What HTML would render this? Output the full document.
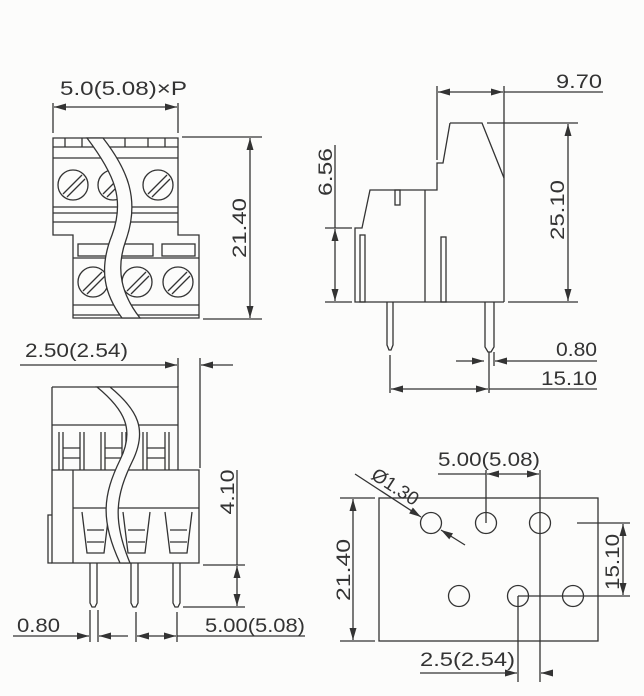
<!DOCTYPE html>
<html><head><meta charset="utf-8"><style>
html,body{margin:0;padding:0;background:#fcfcfb;}
svg{display:block}
text{font-family:"Liberation Sans",sans-serif;font-size:19px;fill:#333}
</style></head><body>
<svg width="644" height="696" viewBox="0 0 644 696" xmlns="http://www.w3.org/2000/svg">
<defs>
<marker id="a" viewBox="0 0 12 7" refX="12" refY="3.5" markerWidth="12" markerHeight="7" markerUnits="userSpaceOnUse" orient="auto-start-reverse"><path d="M0,0L12,3.5L0,7z" fill="#333"/></marker>
</defs>
<g fill="none" stroke="#333" stroke-width="1.3">
<!-- TOP LEFT -->
<line x1="53" y1="103" x2="53" y2="133"/><line x1="178" y1="103" x2="178" y2="133"/>
<line x1="54" y1="107" x2="177" y2="107" marker-start="url(#a)" marker-end="url(#a)"/>
<path d="M53,138H178V235H199V318H73V235H53Z"/>
<line x1="53" y1="147" x2="178" y2="147"/><line x1="53" y1="158" x2="178" y2="158"/>
<line x1="65" y1="138" x2="65" y2="147"/><line x1="82" y1="138" x2="82" y2="147"/>
<line x1="125" y1="138" x2="125" y2="147"/><line x1="148" y1="138" x2="148" y2="147"/><line x1="165" y1="138" x2="165" y2="147"/>
<line x1="53" y1="207" x2="178" y2="207"/><line x1="53" y1="213" x2="178" y2="213"/><line x1="53" y1="222" x2="178" y2="222"/>
<circle cx="73" cy="185" r="15"/><circle cx="113" cy="185" r="15"/><circle cx="158" cy="185" r="15"/>
<path d="M63,194L82,175M67,197L85,179M103,194L122,175M107,197L125,179M148,194L167,175M152,197L170,179"/>
<rect x="78" y="244" width="35" height="12"/><rect x="120" y="244" width="33" height="12"/><rect x="162" y="244" width="33" height="12"/>
<line x1="73" y1="258" x2="199" y2="258"/>
<circle cx="93" cy="282" r="15"/><circle cx="137" cy="282" r="15"/><circle cx="178" cy="282" r="15"/>
<path d="M83,291L102,272M87,294L105,276M127,291L146,272M131,294L149,276M168,291L187,272M172,294L190,276"/>
<line x1="73" y1="305" x2="199" y2="305"/><line x1="73" y1="315" x2="199" y2="315"/>
<path d="M87,138C115,175 125,200 112,235C98,270 105,295 122,318L140,318C122,295 115,270 126,240C140,200 128,170 103,138Z" fill="#fcfcfb"/>
<line x1="182" y1="137" x2="262" y2="137"/><line x1="203" y1="319" x2="262" y2="319"/>
<line x1="250" y1="138" x2="250" y2="318" marker-start="url(#a)" marker-end="url(#a)"/>
<!-- TOP RIGHT -->
<line x1="437" y1="86" x2="437" y2="160"/><line x1="504" y1="86" x2="504" y2="302"/>
<line x1="438" y1="92" x2="503" y2="92" marker-start="url(#a)" marker-end="url(#a)"/>
<line x1="504" y1="92" x2="603" y2="92"/>
<path d="M450,123H482L504,178M450,123L443,163H437V190H370L362,228H355V302H504"/>
<line x1="425" y1="190" x2="425" y2="302"/>
<rect x="395" y="190" width="5" height="15"/><rect x="360" y="235" width="5" height="67"/><rect x="441" y="237" width="5" height="65"/>
<path d="M387,302V345L389,350H391L393,345V302"/>
<path d="M485,302V347L488,352H491L494,347V302"/>
<line x1="335" y1="145" x2="335" y2="228"/>
<line x1="335" y1="229" x2="335" y2="301" marker-start="url(#a)" marker-end="url(#a)"/>
<line x1="325" y1="228" x2="352" y2="228"/><line x1="325" y1="302" x2="352" y2="302"/>
<line x1="487" y1="123" x2="578" y2="123"/><line x1="508" y1="302" x2="578" y2="302"/>
<line x1="568" y1="124" x2="568" y2="301" marker-start="url(#a)" marker-end="url(#a)"/>
<line x1="489" y1="352" x2="489" y2="393"/><line x1="390" y1="355" x2="390" y2="393"/><line x1="494" y1="352" x2="494" y2="366"/>
<line x1="456" y1="361" x2="484" y2="361" marker-end="url(#a)"/><line x1="597" y1="361" x2="495" y2="361" marker-end="url(#a)"/>
<line x1="391" y1="389" x2="488" y2="389" marker-start="url(#a)" marker-end="url(#a)"/><line x1="489" y1="389" x2="597" y2="389"/>
<!-- BOTTOM LEFT -->
<line x1="20" y1="365" x2="177" y2="365" marker-end="url(#a)"/><line x1="233" y1="365" x2="201" y2="365" marker-end="url(#a)"/>
<line x1="178" y1="358" x2="178" y2="387"/><line x1="200" y1="358" x2="200" y2="468"/>
<path d="M52,387H178V470M52,387V563H199V470H52"/>
<line x1="52" y1="425" x2="178" y2="425"/>
<line x1="73" y1="470" x2="73" y2="563"/><path d="M52,515H48V563H52"/>
<line x1="73" y1="508" x2="199" y2="508"/>
<path d="M59,432V470M63,432V470M80,432V470M84,432V470M63,448H80M63,458H80"/>
<path d="M101,432V470M105,432V470M122,432V470M126,432V470M105,448H122M105,458H122"/>
<path d="M143,432V470M147,432V470M165,432V470M169,432V470M147,448H165M147,458H165"/>
<path d="M82,512L87,553H104L109,512M87,530H104M87,542H104"/>
<path d="M123,512L128,553H145L150,512M128,530H145M128,542H145"/>
<path d="M165,512L170,553H187L192,512M170,530H187M170,542H187"/>
<path d="M90,563V603L92,607H95L97,603V563M131,563V603L133,607H136L138,603V563M173,563V603L175,607H178L180,603V563"/>
<path d="M97,387C125,410 135,430 120,460C103,495 100,520 120,563L130,563C112,520 116,495 132,462C148,430 138,410 110,387Z" fill="#fcfcfb"/>
<line x1="203" y1="565" x2="245" y2="565"/><line x1="183" y1="607" x2="245" y2="607"/>
<line x1="237" y1="470" x2="237" y2="565"/>
<line x1="237" y1="566" x2="237" y2="606" marker-start="url(#a)" marker-end="url(#a)"/>
<path d="M90,610V642M98,610V642M136,612V642M177,612V642"/>
<line x1="13" y1="636" x2="89" y2="636" marker-end="url(#a)"/><line x1="128" y1="636" x2="99" y2="636" marker-end="url(#a)"/>
<line x1="137" y1="636" x2="176" y2="636" marker-start="url(#a)" marker-end="url(#a)"/><line x1="177" y1="636" x2="305" y2="636"/>
<!-- BOTTOM RIGHT -->
<rect x="379" y="498" width="219" height="143"/>
<circle cx="431" cy="523" r="10.5"/><circle cx="486" cy="523" r="10.5"/><circle cx="540" cy="523" r="10.5"/>
<circle cx="459" cy="596" r="10.5"/><circle cx="518" cy="596" r="10.5"/><circle cx="573" cy="596" r="10.5"/>
<line x1="486" y1="470" x2="486" y2="523"/><line x1="540" y1="470" x2="540" y2="682"/>
<line x1="438" y1="474" x2="486" y2="474"/>
<line x1="487" y1="474" x2="539" y2="474" marker-start="url(#a)" marker-end="url(#a)"/>
<line x1="340" y1="498" x2="375" y2="498"/><line x1="340" y1="641" x2="375" y2="641"/>
<line x1="353" y1="499" x2="353" y2="640" marker-start="url(#a)" marker-end="url(#a)"/>
<line x1="577" y1="523" x2="630" y2="523"/><line x1="518" y1="596" x2="630" y2="596"/>
<line x1="623" y1="524" x2="623" y2="595" marker-start="url(#a)" marker-end="url(#a)"/>
<line x1="518" y1="596" x2="518" y2="682"/>
<line x1="420" y1="673" x2="517" y2="673" marker-end="url(#a)"/>
<line x1="552" y1="673" x2="541" y2="673" marker-end="url(#a)"/>
<line x1="355" y1="474" x2="421" y2="517" marker-end="url(#a)"/>
<line x1="465" y1="545" x2="441" y2="530" marker-end="url(#a)"/>
</g>
<text x="60" y="95" textLength="127" lengthAdjust="spacingAndGlyphs">5.0(5.08)×P</text>
<text transform="translate(246,228) rotate(-90)" text-anchor="middle" textLength="60" lengthAdjust="spacingAndGlyphs">21.40</text>
<text x="556" y="88" textLength="46" lengthAdjust="spacingAndGlyphs">9.70</text>
<text transform="translate(332,172) rotate(-90)" text-anchor="middle" textLength="48" lengthAdjust="spacingAndGlyphs">6.56</text>
<text transform="translate(564,210) rotate(-90)" text-anchor="middle" textLength="60" lengthAdjust="spacingAndGlyphs">25.10</text>
<text x="556" y="356" textLength="41" lengthAdjust="spacingAndGlyphs">0.80</text>
<text x="541" y="385" textLength="56" lengthAdjust="spacingAndGlyphs">15.10</text>
<text x="25" y="357" textLength="103" lengthAdjust="spacingAndGlyphs">2.50(2.54)</text>
<text transform="translate(234,492) rotate(-90)" text-anchor="middle" textLength="45" lengthAdjust="spacingAndGlyphs">4.10</text>
<text x="17" y="632" textLength="43" lengthAdjust="spacingAndGlyphs">0.80</text>
<text x="205" y="632" textLength="100" lengthAdjust="spacingAndGlyphs">5.00(5.08)</text>
<text x="438" y="466" textLength="102" lengthAdjust="spacingAndGlyphs">5.00(5.08)</text>
<text transform="translate(350,570) rotate(-90)" text-anchor="middle" textLength="62" lengthAdjust="spacingAndGlyphs">21.40</text>
<text transform="translate(619,562) rotate(-90)" text-anchor="middle" textLength="56" lengthAdjust="spacingAndGlyphs">15.10</text>
<text x="420" y="666" textLength="95" lengthAdjust="spacingAndGlyphs">2.5(2.54)</text>
<text transform="translate(370,478) rotate(33)" textLength="52" lengthAdjust="spacingAndGlyphs">Ø1.30</text>
</svg>
</body></html>
